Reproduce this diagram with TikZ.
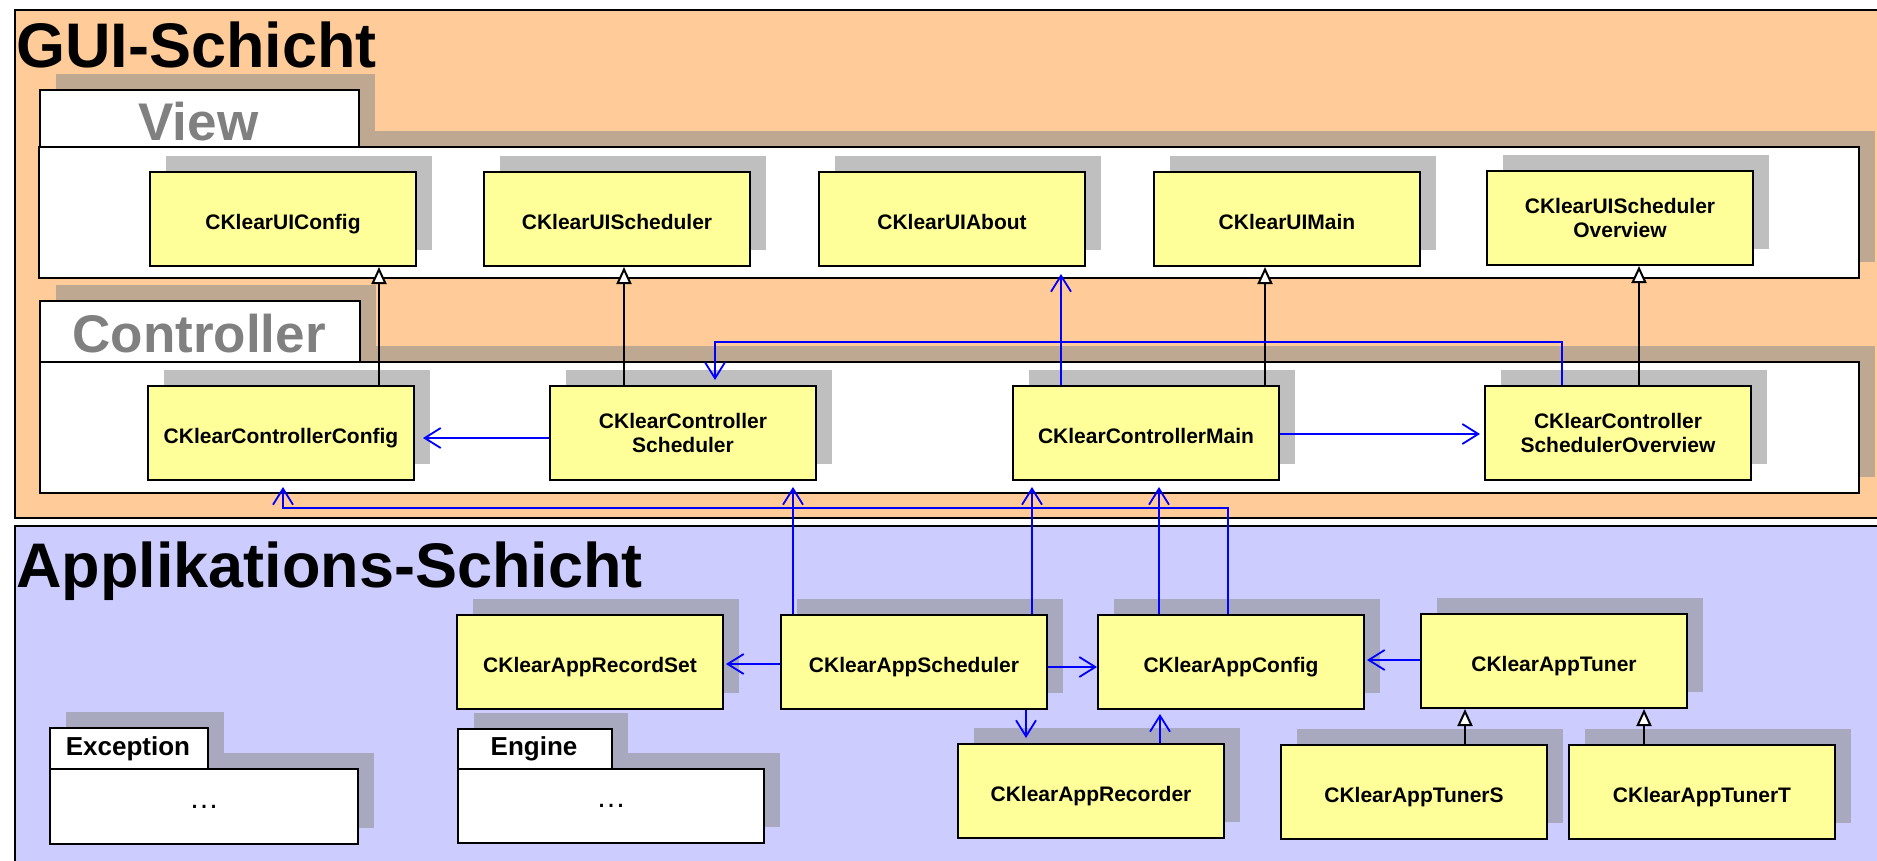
\documentclass[tikz,border=0pt]{standalone}
\usepackage{fontspec}
\setmainfont{Liberation Sans}
\usetikzlibrary{arrows.meta,shadows}
\definecolor{guiorange}{RGB}{255,204,153}
\definecolor{applilac}{RGB}{204,204,255}
\definecolor{clsyellow}{RGB}{255,255,153}
\definecolor{navblue}{RGB}{0,0,255}
\begin{document}
\begin{tikzpicture}[x=1pt,y=-1pt,
  shd/.style={drop shadow={shadow xshift=16pt, shadow yshift=16pt, fill=black!45, opacity=0.55}},
  layer/.style={draw=black, line width=2pt, anchor=north west, inner sep=0pt},
  cls/.style={shd, draw=black, line width=2pt, fill=clsyellow, minimum width=266pt, minimum height=94pt,
    anchor=north west, inner sep=0pt, font=\fontsize{21}{24}\selectfont\bfseries, align=center},
  oneline/.style={text height=20pt, text depth=0pt},
  twoline/.style={execute at begin node={\rule{0pt}{22pt}}},
  pkg/.style={shd, draw=black, line width=2pt, fill=white, anchor=north west, inner sep=0pt},
  bigtitle/.style={anchor=base west, inner sep=0pt, font=\fontsize{63}{70}\selectfont\bfseries},
  pkgtitle/.style={anchor=base, inner sep=0pt, text=black!50, font=\fontsize{53}{60}\selectfont\bfseries},
  smalltitle/.style={anchor=base, inner sep=0pt, font=\fontsize{26}{30}\selectfont\bfseries},
  dots/.style={font=\fontsize{30}{34}\selectfont},
  nav/.style={draw=navblue, line width=1.8pt, -{Straight Barb[length=16pt,width=20pt]}},
  gen/.style={draw=black, line width=2pt, -{Triangle[length=17pt,width=15pt,fill=white]}}
]
\useasboundingbox (0,0) rectangle (1877,860);
\fill[white] (0,0) rectangle (1877,860);

% layers
\node[layer, fill=guiorange, minimum width=1900pt, minimum height=508pt] (gui) at (14,9) {};
\node[layer, fill=applilac, minimum width=1900pt, minimum height=400pt] (appl) at (14,525) {};
\node[bigtitle] (guititle) at (16,67) {GUI-Schicht};
\node[bigtitle] (appltitle) at (16,587) {Applikations-Schicht};

% View package
\node[pkg, minimum width=1820pt, minimum height=131pt] (viewbody) at (38,146) {};
\node[pkg, minimum width=319pt, minimum height=57pt] (viewtab) at (39,89) {};
\node[pkgtitle] (viewlbl) at (198.5,140) {View};

% Controller package
\node[pkg, minimum width=1819pt, minimum height=131pt] (ctrlbody) at (39,361) {};
\node[pkg, minimum width=320pt, minimum height=61pt] (ctrltab) at (39,300) {};
\node[pkgtitle] (ctrllbl) at (199,352) {Controller};

% Exception package
\node[pkg, minimum width=308pt, minimum height=75pt, dots] (excbody) at (49,768) {…};
\node[pkg, minimum width=158pt, minimum height=41pt] (exctab) at (49,727) {};
\node[smalltitle] (exclbl) at (128,755) {Exception};

% Engine package
\node[pkg, minimum width=306pt, minimum height=74pt, dots] (engbody) at (457,768) {…};
\node[pkg, minimum width=154pt, minimum height=40pt] (engtab) at (457,728) {};
\node[smalltitle] (englbl) at (534,755) {Engine};

% View classes
\node[cls, oneline] (uicfg) at (149,171) {CKlearUIConfig};
\node[cls, oneline] (uisched) at (483,171) {CKlearUIScheduler};
\node[cls, oneline] (uiabout) at (818,171) {CKlearUIAbout};
\node[cls, oneline] (uimain) at (1153,171) {CKlearUIMain};
\node[cls, twoline] (uisov) at (1486,170) {CKlearUIScheduler\\Overview};

% Controller classes
\node[cls, oneline] (ctrlcfg) at (147,385) {CKlearControllerConfig};
\node[cls, twoline] (ctrlsched) at (549,385) {CKlearController\\Scheduler};
\node[cls, oneline] (ctrlmain) at (1012,385) {CKlearControllerMain};
\node[cls, twoline] (ctrlsov) at (1484,385) {CKlearController\\SchedulerOverview};

% Application classes
\node[cls, oneline] (recset) at (456,614) {CKlearAppRecordSet};
\node[cls, oneline] (appsched) at (780,614) {CKlearAppScheduler};
\node[cls, oneline] (appcfg) at (1097,614) {CKlearAppConfig};
\node[cls, oneline] (apptuner) at (1420,613) {CKlearAppTuner};
\node[cls, oneline] (recorder) at (957,743) {CKlearAppRecorder};
\node[cls, oneline] (tunerS) at (1280,744) {CKlearAppTunerS};
\node[cls, oneline] (tunerT) at (1568,744) {CKlearAppTunerT};

% generalizations
\draw[gen] (ctrlcfg.north -| 379,0) -- (uicfg.south -| 379,0);
\draw[gen] (ctrlsched.north -| 624,0) -- (uisched.south -| 624,0);
\draw[gen] (ctrlmain.north -| 1265,0) -- (uimain.south -| 1265,0);
\draw[gen] (ctrlsov.north -| 1639,0) -- (uisov.south -| 1639,0);
\draw[gen] (tunerS.north -| 1465,0) -- (apptuner.south -| 1465,0);
\draw[gen] (tunerT.north -| 1644,0) -- (apptuner.south -| 1644,0);

% navigable associations
\draw[nav, shorten >=7pt] (ctrlmain.north -| 1061,0) -- (uiabout.south -| 1061,0);
\draw[nav, shorten >=8pt] (ctrlsched.west |- 0,438) -- (ctrlcfg.east |- 0,438);
\draw[nav, shorten >=5pt] (ctrlsov.north -| 1562,0) |- (715,342) -- (ctrlsched.north -| 715,0);
\draw[nav, shorten >=4pt] (ctrlmain.east |- 0,434) -- (ctrlsov.west |- 0,434);
\draw[nav, shorten >=6pt] (appsched.north -| 793,0) -- (ctrlsched.south -| 793,0);
\draw[nav, shorten >=6pt] (appsched.north -| 1032,0) -- (ctrlmain.south -| 1032,0);
\draw[nav, shorten >=6pt] (appcfg.north -| 1159,0) -- (ctrlmain.south -| 1159,0);
\draw[nav, shorten >=6pt] (appcfg.north -| 1228,0) |- (283,508) -- (ctrlcfg.south -| 283,0);
\draw[nav, shorten >=2pt] (appsched.west |- 0,664) -- (recset.east |- 0,664);
\draw[nav] (appsched.east |- 0,667) -- (appcfg.west |- 0,667);
\draw[nav, shorten >=5pt] (appsched.south -| 1026,0) -- (recorder.north -| 1026,0);
\draw[nav, shorten >=4pt] (recorder.north -| 1160,0) -- (appcfg.south -| 1160,0);
\draw[nav, shorten >=2pt] (apptuner.west |- 0,660) -- (appcfg.east |- 0,660);
\end{tikzpicture}
\end{document}
